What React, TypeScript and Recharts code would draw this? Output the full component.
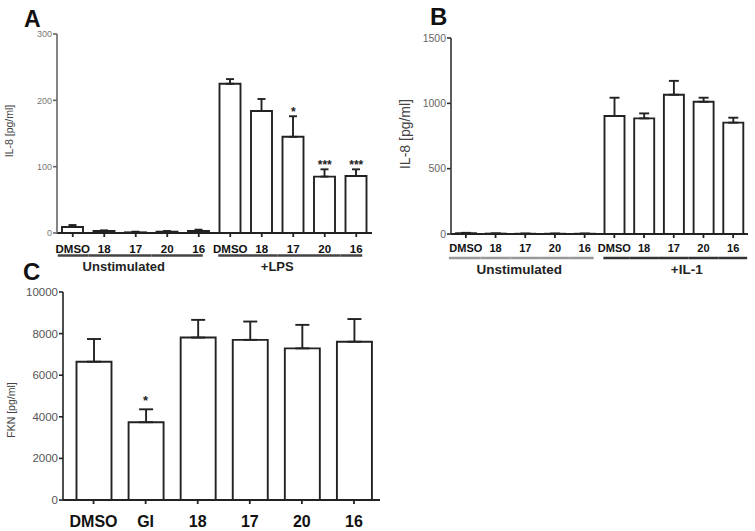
import React from 'react';
import { ComposedChart, Bar, Line, XAxis, YAxis, ErrorBar, LabelList } from 'recharts';

const FONT = '"Liberation Sans", Arial, Helvetica, sans-serif';

// Panel A: IL-8 after LPS
const groupsA = ['Unstimulated', '+LPS'];
const catsA = ['DMSO', '18', '17', '20', '16', 'DMSO', '18', '17', '20', '16'];
const meanA = [9, 3, 1, 2, 3, 225, 184, 145, 85, 86];
const semA = [3, 1, 1, 1, 2, 7, 18, 31, 11, 10];
const starsA = ['', '', '', '', '', '', '', '*', '***', '***'];
const ticksA = [0, 100, 200, 300];

// Panel B: IL-8 after IL-1
const groupsB = ['Unstimulated', '+IL-1'];
const catsB = ['DMSO', '18', '17', '20', '16', 'DMSO', '18', '17', '20', '16'];
const meanB = [6, 3, 2, 2, 2, 903, 885, 1066, 1012, 852];
const semB = [3, 1, 1, 1, 1, 140, 38, 106, 31, 38];
const starsB = ['', '', '', '', '', '', '', '', '', ''];
const ticksB = [0, 500, 1000, 1500];

// Panel C: FKN
const catsC = ['DMSO', 'GI', '18', '17', '20', '16'];
const meanC = [6650, 3740, 7810, 7700, 7290, 7610];
const semC = [1090, 620, 850, 880, 1130, 1090];
const starsC = ['', '*', '', '', '', ''];
const ticksC = [0, 2000, 4000, 6000, 8000, 10000];

const buildRows = (cats: string[], means: number[], sems: number[], stars: string[]) =>
  cats.map((c, i) => ({
    key: i,
    cat: c,
    mean: means[i],
    err: [0, sems[i]],
    capTop: means[i] + sems[i],
    star: stars[i],
  }));

type GroupTickOpts = {
  cats: string[];
  groups?: string[];
  size: number;
  band: number;
  fontSize: number;
  labelDy: number;
  lineDy?: number;
  groupDy?: number;
  groupFont?: number;
  lineColors?: string[];
  groupDx?: number[];
  startPad?: number[];
  endPad?: number[];
};

const makeTick = (o: GroupTickOpts) => (props: any) => {
  const { x, y, payload } = props;
  const i = Number(payload.value);
  const g = Math.floor(i / o.size);
  const pos = i % o.size;
  let line = null;
  let glabel = null;
  if (o.groups) {
    const x1 = pos === 0 ? x - o.startPad![g] : x - o.band / 2;
    const x2 = pos === o.size - 1 ? x + o.endPad![g] : x + o.band / 2;
    line = (
      <line x1={x1} x2={x2} y1={y + o.lineDy!} y2={y + o.lineDy!} stroke={o.lineColors![g]} strokeWidth={2.5} />
    );
    if (pos === Math.floor(o.size / 2)) {
      glabel = (
        <text
          x={x + o.groupDx![g]}
          y={y + o.groupDy!}
          textAnchor="middle"
          fontFamily={FONT}
          fontWeight="bold"
          fontSize={o.groupFont}
          fill="#222"
        >
          {o.groups[g]}
        </text>
      );
    }
  }
  return (
    <g>
      <text x={x} y={y + o.labelDy} textAnchor="middle" fontFamily={FONT} fontWeight="bold" fontSize={o.fontSize} fill="#111">
        {o.cats[i]}
      </text>
      {line}
      {glabel}
    </g>
  );
};

const yLabel = (text: string, x: number, y: number, fontSize: number) => () => (
  <text
    x={x}
    y={y}
    transform={`rotate(-90 ${x} ${y})`}
    textAnchor="middle"
    fontFamily={FONT}
    fontSize={fontSize}
    fill="#444"
  >
    {text}
  </text>
);

type PanelProps = {
  rows: any[];
  width: number;
  height: number;
  margin: { top: number; right: number; left: number; bottom: number };
  yWidth: number;
  xHeight: number;
  domain: [number, number];
  ticks: number[];
  yTickFont: number;
  yTickColor: string;
  yAxisColor: string;
  label: () => React.ReactElement;
  tick: (p: any) => React.ReactElement;
  barSize: number;
  capWidth: number;
  starFont: number;
  starOffset: number;
  xPadding?: { left: number; right: number };
};

function Panel(p: PanelProps) {
  return (
    <ComposedChart width={p.width} height={p.height} data={p.rows} margin={p.margin}>
      <XAxis
        dataKey="key"
        type="category"
        height={p.xHeight}
        interval={0}
        tickSize={4}
        tickMargin={0}
        tick={p.tick}
        stroke="#222"
        strokeWidth={1.8}
        padding={p.xPadding}
      />
      <YAxis
        width={p.yWidth}
        domain={p.domain}
        ticks={p.ticks}
        tickSize={4}
        tickMargin={1}
        stroke={p.yAxisColor}
        strokeWidth={1.6}
        tick={{ fontSize: p.yTickFont, fill: p.yTickColor, fontFamily: FONT }}
        label={p.label}
      />
      <Bar dataKey="mean" fill="#fff" stroke="#222" strokeWidth={1.9} barSize={p.barSize} isAnimationActive={false}>
        <ErrorBar dataKey="err" width={p.capWidth} stroke="#222" strokeWidth={1.9} direction="y" />
      </Bar>
      <Line dataKey="capTop" stroke="none" dot={false} activeDot={false} legendType="none" isAnimationActive={false}>
        <LabelList
          dataKey="star"
          position="top"
          offset={p.starOffset}
          fontFamily={FONT}
          fontWeight="bold"
          fontSize={p.starFont}
          fill="#222"
        />
      </Line>
    </ComposedChart>
  );
}

export default function App() {
  const rowsA = buildRows(catsA, meanA, semA, starsA);
  const rowsB = buildRows(catsB, meanB, semB, starsB);
  const rowsC = buildRows(catsC, meanC, semC, starsC);

  const tickA = makeTick({
    cats: catsA,
    groups: groupsA,
    size: 5,
    band: 31.5,
    fontSize: 11.5,
    labelDy: 16,
    lineDy: 18.5,
    groupDy: 34,
    groupFont: 13,
    lineColors: ['#444', '#444'],
    groupDx: [-12, -16],
    startPad: [15, 12],
    endPad: [4, 6],
  });
  const tickB = makeTick({
    cats: catsB,
    groups: groupsB,
    size: 5,
    band: 29.7,
    fontSize: 11,
    labelDy: 14,
    lineDy: 20,
    groupDy: 36,
    groupFont: 13.5,
    lineColors: ['#999', '#333'],
    groupDx: [-6, 13],
    startPad: [17, 11],
    endPad: [9, 14],
  });
  const tickC = makeTick({ cats: catsC, size: 6, band: 52, fontSize: 16, labelDy: 23 });

  return (
    <div style={{ position: 'absolute', left: 0, top: 0, width: 755, height: 531, background: '#fff' }}>
      <div style={{ position: 'absolute', left: 0, top: 0 }}>
        <Panel
          rows={rowsA}
          width={380}
          height={281}
          margin={{ top: 34, right: 8, left: 0, bottom: 6 }}
          yWidth={57}
          xHeight={42}
          domain={[0, 300]}
          ticks={ticksA}
          yTickFont={9}
          yTickColor="#777"
          yAxisColor="#666"
          label={yLabel('IL-8 [pg/ml]', 12.5, 131, 10.5)}
          tick={tickA}
          barSize={21}
          capWidth={4}
          starFont={12}
          starOffset={0}
        />
      </div>
      <div style={{ position: 'absolute', left: 380, top: 0 }}>
        <Panel
          rows={rowsB}
          width={375}
          height={281}
          margin={{ top: 38, right: 7, left: 0, bottom: 6 }}
          yWidth={71}
          xHeight={41}
          domain={[0, 1500]}
          ticks={ticksB}
          yTickFont={10.5}
          yTickColor="#666"
          yAxisColor="#333"
          label={yLabel('IL-8 [pg/ml]', 30, 134, 14)}
          tick={tickB}
          barSize={20}
          capWidth={5}
          starFont={12}
          starOffset={0}
        />
      </div>
      <div style={{ position: 'absolute', left: 0, top: 262 }}>
        <Panel
          rows={rowsC}
          width={380}
          height={269}
          margin={{ top: 30, right: 0, left: 0, bottom: 0 }}
          yWidth={63}
          xHeight={31}
          domain={[0, 10000]}
          ticks={ticksC}
          yTickFont={11.5}
          yTickColor="#555"
          yAxisColor="#222"
          label={yLabel('FKN [pg/ml]', 14.5, 148, 10.5)}
          tick={tickC}
          barSize={35}
          capWidth={7}
          starFont={13}
          starOffset={4}
          xPadding={{ left: 4.5, right: 0 }}
        />
      </div>
      <svg width={755} height={531} style={{ position: 'absolute', left: 0, top: 0, pointerEvents: 'none' }}>
        <text x={24} y={27} fontFamily={FONT} fontWeight="bold" fontSize={23} fill="#111">A</text>
        <text x={430} y={25} fontFamily={FONT} fontWeight="bold" fontSize={24} fill="#111">B</text>
        <text x={23} y={280} fontFamily={FONT} fontWeight="bold" fontSize={24} fill="#111">C</text>
      </svg>
    </div>
  );
}
